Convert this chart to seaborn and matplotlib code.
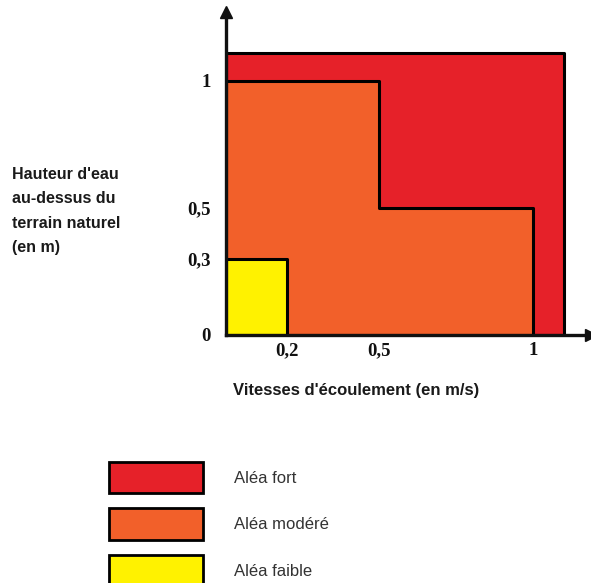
import matplotlib
matplotlib.use("Agg")
import matplotlib.pyplot as plt
from matplotlib.patches import Patch
import seaborn as sns

# Zones d'aléa (vitesse en m/s, hauteur en m)
zones = ["Aléa fort", "Aléa modéré", "Aléa faible"]
couleurs = ["#E62129", "#F2602A", "#FFF200"]

fort_vitesse = [0, 1.1]
fort_hauteur = [1.11, 1.11]

modere_vitesse = [0, 0.5, 1]
modere_hauteur = [1, 0.5, 0.5]

faible_vitesse = [0, 0.2]
faible_hauteur = [0.3, 0.3]

xticks = [0.2, 0.5, 1]
xlabels = ["0,2", "0,5", "1"]
yticks = [0, 0.3, 0.5, 1]
ylabels = ["0", "0,3", "0,5", "1"]

sns.set_theme(style="white")

fig = plt.figure(figsize=(5.91, 5.83), dpi=100)
ax = fig.add_axes([0.3824, 0.4254, 0.6181, 0.554])

ax.fill_between(fort_vitesse, fort_hauteur, color=couleurs[0],
                edgecolor="black", linewidth=2.2, zorder=1)
ax.fill_between(modere_vitesse, modere_hauteur, step="post", color=couleurs[1],
                edgecolor="black", linewidth=2.2, zorder=2)
ax.fill_between(faible_vitesse, faible_hauteur, color=couleurs[2],
                edgecolor="black", linewidth=2.2, zorder=3)

ax.set_xlim(0, 1.19)
ax.set_ylim(0, 1.27)
for s in ["top", "right"]:
    ax.spines[s].set_visible(False)
for s in ["left", "bottom"]:
    ax.spines[s].set_linewidth(2.4)
    ax.spines[s].set_color("#111111")
    ax.spines[s].set_zorder(5)

# fleches des axes
ax.plot(1, 0, ">", color="#111111", ms=9, transform=ax.get_yaxis_transform(), clip_on=False)
ax.plot(0, 1, "^", color="#111111", ms=9, transform=ax.get_xaxis_transform(), clip_on=False)

tick_font = dict(family=["Liberation Serif", "DejaVu Serif"], weight="bold", size=13.5)
ax.set_xticks(xticks)
ax.set_xticklabels(xlabels, fontdict=tick_font)
ax.set_yticks(yticks)
ax.set_yticklabels(ylabels, fontdict=tick_font)
ax.tick_params(axis="x", length=0, pad=5, colors="#111111")
ax.tick_params(axis="y", length=0, pad=11, colors="#111111")
ax.grid(False)

fig.text(12 / 591, 1 - 167 / 583, "Hauteur d'eau\nau-dessus du\nterrain naturel\n(en m)",
         family=["Liberation Sans", "DejaVu Sans"], weight="bold", size=11.5,
         va="top", ha="left", linespacing=1.78, color="#1a1a1a")
fig.text(233 / 591, 1 - 390 / 583, "Vitesses d'écoulement (en m/s)",
         family=["Liberation Sans", "DejaVu Sans"], weight="bold", size=12,
         va="center", ha="left", color="#1a1a1a")

handles = [Patch(facecolor=c, edgecolor="black", linewidth=2) for c in couleurs]
leg = fig.legend(handles, zones, loc="upper left",
                 bbox_to_anchor=(109 / 591, 1 - 462 / 583),
                 frameon=False, borderpad=0, borderaxespad=0,
                 handlelength=5.64, handleheight=2.52, handletextpad=1.83,
                 labelspacing=0.9,
                 prop=dict(family=["Liberation Sans", "DejaVu Sans"], size=12))
for t in leg.get_texts():
    t.set_color("#333333")

fig.savefig("out.png", dpi=100)
